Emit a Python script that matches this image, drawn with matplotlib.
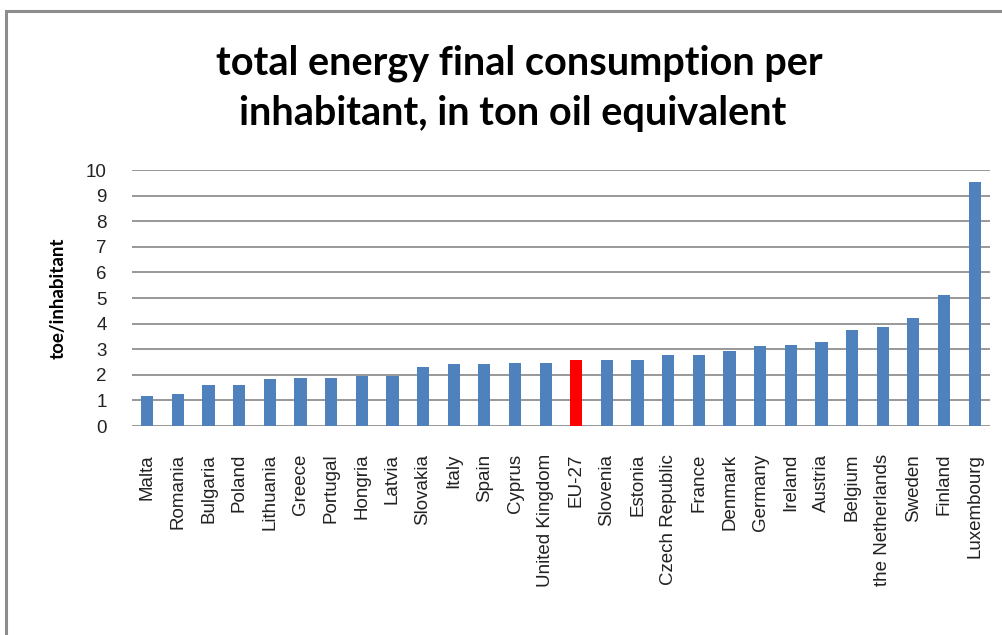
import matplotlib
matplotlib.use("Agg")
import matplotlib.pyplot as plt
from matplotlib.patches import Rectangle

# Final energy consumption per inhabitant (toe), sorted ascending
countries = ['Malta', 'Romania', 'Bulgaria', 'Poland', 'Lithuania', 'Greece',
             'Portugal', 'Hongria', 'Latvia', 'Slovakia', 'Italy', 'Spain',
             'Cyprus', 'United Kingdom', 'EU-27', 'Slovenia', 'Estonia',
             'Czech Republic', 'France', 'Denmark', 'Germany', 'Ireland',
             'Austria', 'Belgium', 'the Netherlands', 'Sweden', 'Finland',
             'Luxembourg']
toe_per_inhabitant = [1.17, 1.25, 1.60, 1.60, 1.84, 1.88, 1.88, 1.97, 1.97,
                      2.31, 2.43, 2.43, 2.46, 2.46, 2.58, 2.58, 2.58, 2.78,
                      2.78, 2.93, 3.13, 3.17, 3.29, 3.76, 3.87, 4.22, 5.12,
                      9.54]
highlight = 'EU-27'

BLUE = '#4F81BD'
RED = '#FF0000'
GRID = '#868686'

fig = plt.figure(figsize=(10.02, 6.35), dpi=100)
ax = fig.add_axes([0.1317, 0.3291, 0.8563, 0.4031])

colors = [RED if c == highlight else BLUE for c in countries]
x = range(len(countries))
ax.bar(x, toe_per_inhabitant, width=0.4, color=colors, zorder=3)

ax.set_xlim(-0.5, len(countries) - 0.5)
ax.set_ylim(0, 10)
ax.set_yticks(range(0, 11))
ax.yaxis.grid(True, color=GRID, linewidth=1.2, zorder=0)
ax.set_axisbelow(True)
for side in ['top', 'right', 'left', 'bottom']:
    ax.spines[side].set_visible(False)
ax.tick_params(axis='y', length=0, pad=18, labelsize=13.5, labelcolor='#222222')
ax.tick_params(axis='x', length=0, pad=20)
ax.set_xticks(list(x))
ax.set_xticklabels(countries, rotation=90, fontsize=13.5, color='#222222',
                   family='Liberation Sans')
for lbl in ax.get_yticklabels():
    lbl.set_family('Liberation Sans')

ax.set_ylabel('toe/inhabitant', fontsize=13.5, fontweight='bold', labelpad=14,
              family='Lato')

fig.text(0.518, 0.900, 'total energy final consumption per',
         ha='center', va='center', fontsize=28.5, fontweight='bold',
         family='Lato')
fig.text(0.512, 0.822, 'inhabitant, in ton oil equivalent',
         ha='center', va='center', fontsize=28.5, fontweight='bold',
         family='Lato')

# chart frame, open on the right and bottom
fig.patches.append(Rectangle((0.006, -0.05), 1.2, 1.033, transform=fig.transFigure,
                             fill=False, edgecolor='#8c8c8c', linewidth=2.2))

fig.savefig('out.png', dpi=100, facecolor='white')
